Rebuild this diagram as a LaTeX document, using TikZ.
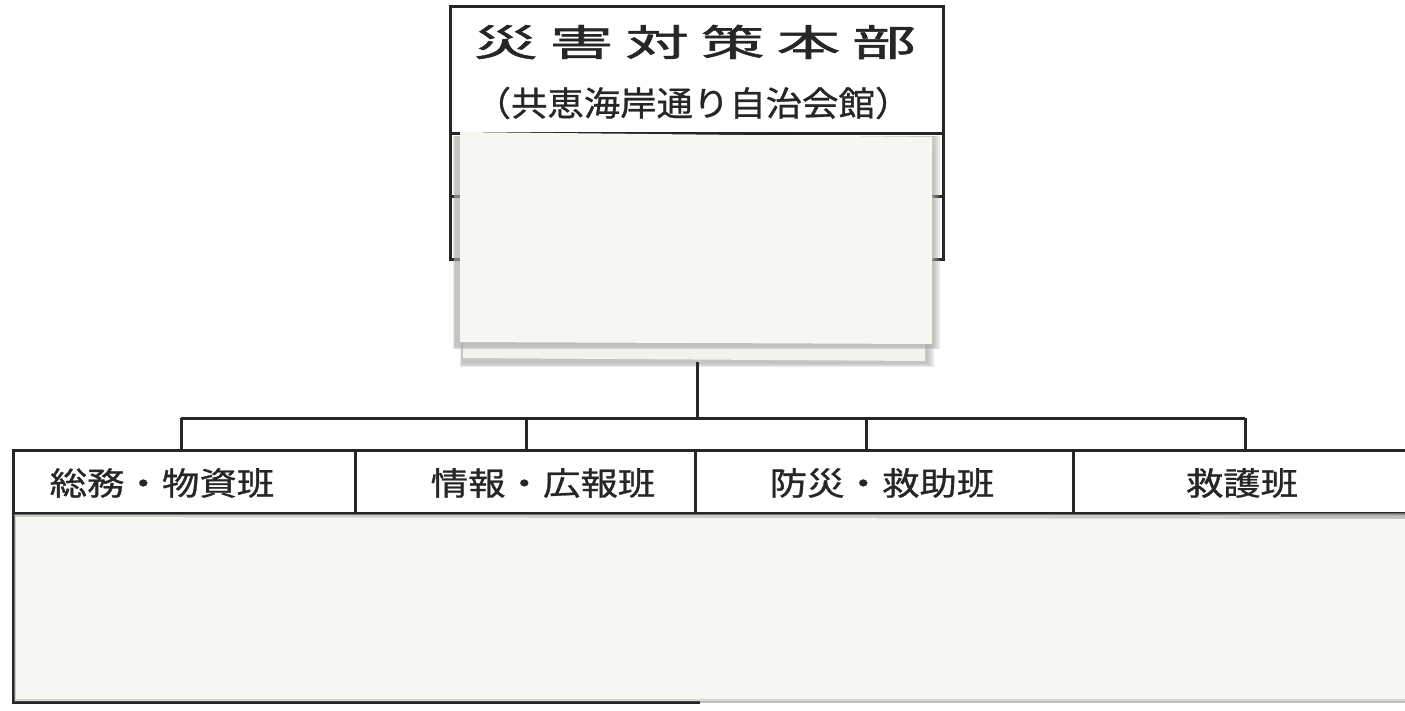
\documentclass[tikz,border=0pt]{standalone}
\usepackage{fontspec}
\newfontfamily\jp[FakeBold=0.8]{Noto Sans CJK JP}
\newfontfamily\jptitle[FakeBold=1.2]{Noto Sans CJK JP}
\usetikzlibrary{calc}
\definecolor{ink}{RGB}{38,38,38}
\definecolor{paper}{RGB}{247,246,240}
\definecolor{shade}{RGB}{170,170,168}
\tikzset{
  frame/.style={draw=ink, line width=3pt},
  conn/.style={draw=ink, line width=3pt},
  patch/.style={fill=paper, draw=none},
  softshade/.style={fill=shade, fill opacity=0.25, draw=none},
  titletext/.style={font=\jptitle\fontsize{37}{37}\selectfont, text=ink, inner sep=0pt},
  subtext/.style={font=\jp\fontsize{34}{34}\selectfont, text=ink, inner sep=0pt},
  teamtext/.style={font=\jp\fontsize{32}{32}\selectfont, text=ink, inner sep=0pt},
}
\begin{document}
\begin{tikzpicture}[x=1pt,y=-1pt]
\useasboundingbox (0,0) rectangle (1405,710);
\fill[white] (0,0) rectangle (1405,710);
% headquarters box
\coordinate (hqNW) at (450,6);
\coordinate (hqSE) at (943,259);
\draw[frame] (hqNW) rectangle (hqSE);
\draw[frame] (450,133) -- (943,133);
\draw[frame] (450,196) -- (943,196);
\draw[frame] (697,133) -- (697,140);
\node[titletext] (title) at (695,42) {\scalebox{1.72}[1]{災\hspace{7pt}害\hspace{7pt}対\hspace{7pt}策\hspace{7pt}本\hspace{7pt}部}};
\node[subtext] (sub) at (693,103) {\scalebox{1.07}[1]{（共恵海岸通り自治会館）}};
% paper patch over headquarters (two sheets with soft shadows)
\foreach \d in {0,2,4,6}{
  \fill[softshade] ($(462,150)+(-\d*0.3,-\d*0.3)$) rectangle ($(928,364)+(\d,\d*0.5)$);
}
\fill[fill=paper!97!gray] (463,150) -- (925,152) -- (925,361) -- (463,358) -- cycle;
\foreach \d in {0,2,4,6}{
  \fill[softshade] ($(455,136)+(-\d*0.3,0)$) rectangle ($(934,347)+(\d,\d*0.4)$);
}
\fill[patch] (460,132) -- (932,137) -- (932,344) -- (460,342) -- cycle;
\coordinate (hqBottom) at (697,362);
% team row
\coordinate (rowNW) at (13,450);
\coordinate (rowSE) at (1420,513);
\draw[frame] (rowNW) rectangle (rowSE);
\draw[frame] (355,450) -- (355,513);
\draw[frame] (695,450) -- (695,513);
\draw[frame] (1073,450) -- (1073,513);
\node[teamtext] (t1) at (162,483) {\scalebox{1.17}[1]{総務・物資班}};
\node[teamtext] (t2) at (543,483) {\scalebox{1.17}[1]{情報・広報班}};
\node[teamtext] (t3) at (882,483) {\scalebox{1.17}[1]{防災・救助班}};
\node[teamtext] (t4) at (1242,483) {\scalebox{1.17}[1]{救護班}};
\coordinate (d1) at (181,450);
\coordinate (d2) at (526,450);
\coordinate (d3) at (866,450);
\coordinate (d4) at (1245,450);
% connectors
\coordinate (bus) at (697,418);
\draw[conn] (hqBottom) -- (bus);
\draw[conn] (181,418) -- (1245,418);
\draw[conn] (d1) -- (d1 |- bus);
\draw[conn] (d2) -- (d2 |- bus);
\draw[conn] (d3) -- (d3 |- bus);
\draw[conn] (d4) -- (d4 |- bus);
% lower box with paper patch
\draw[frame] (13,513) -- (13,702) -- (700,702);
\draw[draw=shade!70, line width=2pt] (700,702) -- (1405,702);
\foreach \d in {0,2,4}{
  \fill[softshade] (14,514) rectangle (1405,{700+\d*0.5});
}
\foreach \d in {0,2,4}{
  \fill[softshade] ({1200+\d*20},513) rectangle (1405,{516+\d});
}
\fill[patch] (16,517) -- (1405,519) -- (1405,699) -- (16,699) -- cycle;
\end{tikzpicture}
\end{document}
